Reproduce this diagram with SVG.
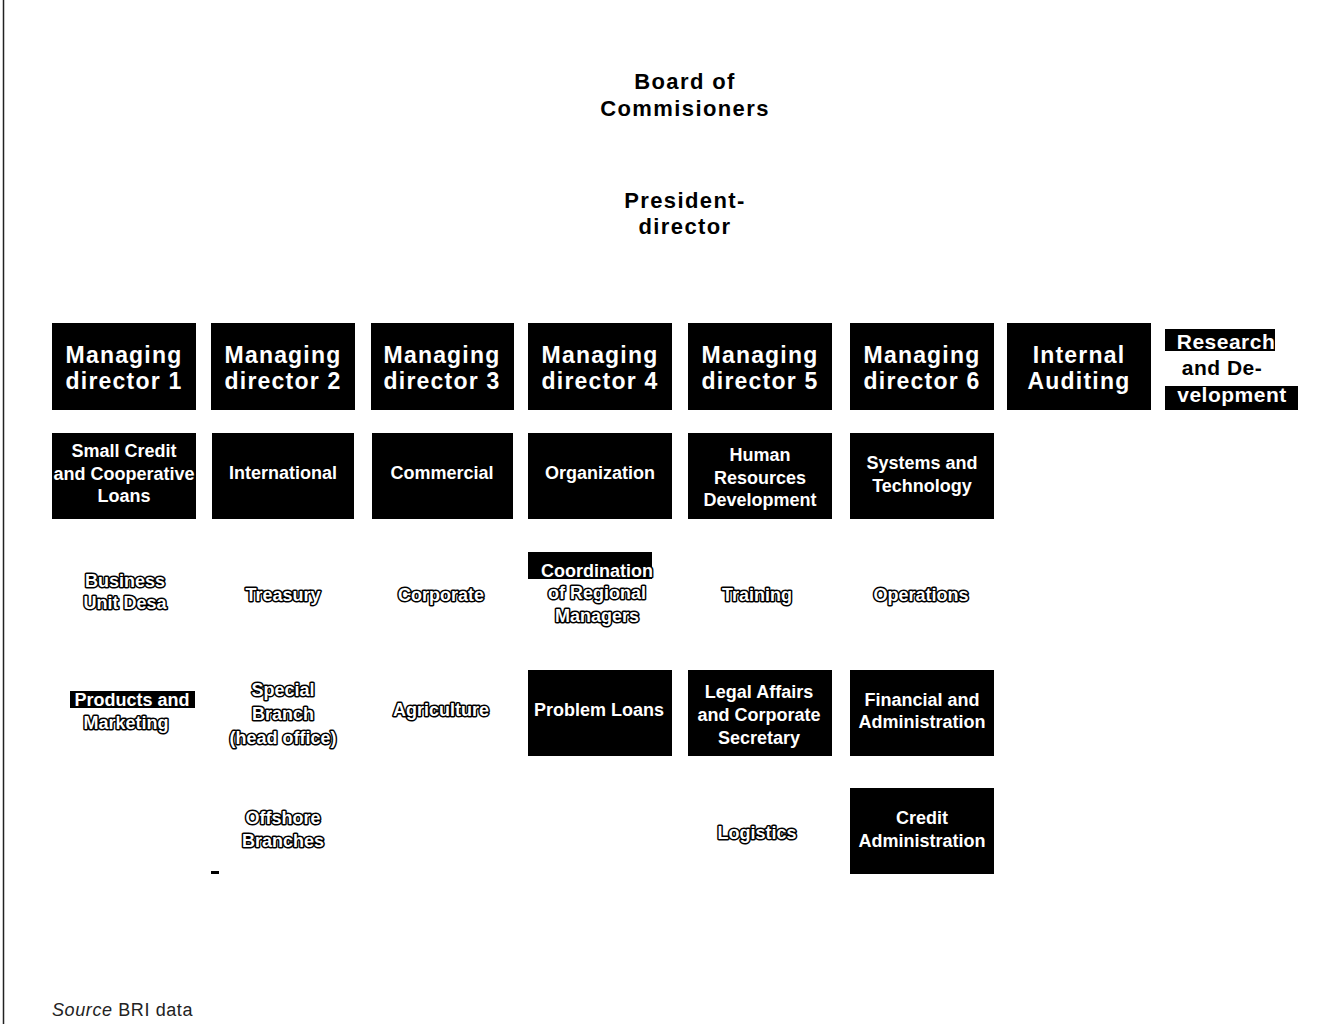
<svg xmlns="http://www.w3.org/2000/svg" width="1335" height="1024" viewBox="0 0 1335 1024">
<style>
  .hdr { font-family: "Liberation Sans", Arial, sans-serif; font-weight: bold; font-size: 22px; letter-spacing: 1.4px; fill: #000; text-anchor: middle; }
  .box { fill: #000; }
  .md { font-family: "Liberation Sans", Arial, sans-serif; font-weight: bold; font-size: 23px; letter-spacing: 1.2px; fill: #fff; text-anchor: middle; }
  .rd { font-family: "Liberation Sans", Arial, sans-serif; font-weight: bold; font-size: 21px; letter-spacing: 0.5px; text-anchor: middle; }
  .sub { font-family: "Liberation Sans", Arial, sans-serif; font-weight: bold; font-size: 18px; fill: #fff; stroke: #000; stroke-width: 3px; stroke-linejoin: round; paint-order: stroke fill; text-anchor: middle; }
  .src { font-family: "Liberation Sans", Arial, sans-serif; font-size: 18px; letter-spacing: 0.6px; fill: #222; }
</style>
<rect width="1335" height="1024" fill="#fff"/>
<line x1="3.5" y1="0" x2="3.5" y2="1024" stroke="#222" stroke-width="1.5"/>

<g id="board"><text class="hdr" x="685" y="89">Board of</text><text class="hdr" x="685" y="116">Commisioners</text></g>
<g id="president"><text class="hdr" x="685" y="208">President-</text><text class="hdr" x="685" y="234">director</text></g>

<g id="md1"><rect class="box" x="52" y="323" width="144" height="87"/><text class="md" x="124" y="363">Managing</text><text class="md" x="124" y="389">director 1</text></g>
<g id="md2"><rect class="box" x="211" y="323" width="144" height="87"/><text class="md" x="283" y="363">Managing</text><text class="md" x="283" y="389">director 2</text></g>
<g id="md3"><rect class="box" x="371" y="323" width="143" height="87"/><text class="md" x="442" y="363">Managing</text><text class="md" x="442" y="389">director 3</text></g>
<g id="md4"><rect class="box" x="528" y="323" width="144" height="87"/><text class="md" x="600" y="363">Managing</text><text class="md" x="600" y="389">director 4</text></g>
<g id="md5"><rect class="box" x="688" y="323" width="144" height="87"/><text class="md" x="760" y="363">Managing</text><text class="md" x="760" y="389">director 5</text></g>
<g id="md6"><rect class="box" x="850" y="323" width="144" height="87"/><text class="md" x="922" y="363">Managing</text><text class="md" x="922" y="389">director 6</text></g>
<g id="audit"><rect class="box" x="1007" y="323" width="144" height="87"/><text class="md" x="1079" y="363">Internal</text><text class="md" x="1079" y="389">Auditing</text></g>
<g id="rnd">
  <rect class="box" x="1165" y="329" width="110" height="22"/>
  <rect class="box" x="1165" y="386" width="133" height="24"/>
  <text class="rd" x="1226" y="349" fill="#fff">Research</text>
  <text class="rd" x="1222" y="375" fill="#000">and De-</text>
  <text class="rd" x="1232" y="402" fill="#fff">velopment</text>
</g>

<g id="smallcredit"><rect class="box" x="52" y="433" width="144" height="86"/><text class="sub" x="124" y="457">Small Credit</text><text class="sub" x="124" y="480">and Cooperative</text><text class="sub" x="124" y="502">Loans</text></g>
<g id="international"><rect class="box" x="212" y="433" width="142" height="86"/><text class="sub" x="283" y="479">International</text></g>
<g id="commercial"><rect class="box" x="372" y="433" width="141" height="86"/><text class="sub" x="442" y="479">Commercial</text></g>
<g id="organization"><rect class="box" x="528" y="433" width="144" height="86"/><text class="sub" x="600" y="479">Organization</text></g>
<g id="hrd"><rect class="box" x="688" y="433" width="144" height="86"/><text class="sub" x="760" y="461">Human</text><text class="sub" x="760" y="484">Resources</text><text class="sub" x="760" y="506">Development</text></g>
<g id="systems"><rect class="box" x="850" y="433" width="144" height="86"/><text class="sub" x="922" y="469">Systems and</text><text class="sub" x="922" y="492">Technology</text></g>

<g id="bud"><text class="sub" x="125" y="587">Business</text><text class="sub" x="125" y="609">Unit Desa</text></g>
<g id="treasury"><text class="sub" x="283" y="601">Treasury</text></g>
<g id="corporate"><text class="sub" x="441" y="601">Corporate</text></g>
<g id="coordination"><rect class="box" x="528" y="552" width="124" height="27"/><text class="sub" x="597" y="577">Coordination</text><text class="sub" x="597" y="599">of Regional</text><text class="sub" x="597" y="622">Managers</text></g>
<g id="training"><text class="sub" x="757" y="601">Training</text></g>
<g id="operations"><text class="sub" x="921" y="601">Operations</text></g>

<g id="products"><rect class="box" x="70" y="691" width="125" height="17"/><text class="sub" x="132" y="706">Products and</text><text class="sub" x="126" y="729">Marketing</text></g>
<g id="special"><text class="sub" x="283" y="696">Special</text><text class="sub" x="283" y="720">Branch</text><text class="sub" x="283" y="744">(head office)</text></g>
<g id="agriculture"><text class="sub" x="441" y="716">Agriculture</text></g>
<g id="problem"><rect class="box" x="528" y="670" width="144" height="86"/><text class="sub" x="599" y="716">Problem Loans</text></g>
<g id="legal"><rect class="box" x="688" y="670" width="144" height="86"/><text class="sub" x="759" y="698">Legal Affairs</text><text class="sub" x="759" y="721">and Corporate</text><text class="sub" x="759" y="744">Secretary</text></g>
<g id="financial"><rect class="box" x="850" y="670" width="144" height="86"/><text class="sub" x="922" y="706">Financial and</text><text class="sub" x="922" y="728">Administration</text></g>

<g id="offshore"><text class="sub" x="283" y="824">Offshore</text><text class="sub" x="283" y="847">Branches</text></g>
<g id="logistics"><text class="sub" x="757" y="839">Logistics</text></g>
<g id="credit"><rect class="box" x="850" y="788" width="144" height="86"/><text class="sub" x="922" y="824">Credit</text><text class="sub" x="922" y="847">Administration</text></g>

<g id="connectors"></g>
<rect x="211" y="871" width="8" height="3" fill="#000"/>

<text class="src" x="52" y="1016"><tspan font-style="italic">Source</tspan>  BRI data</text>
</svg>
